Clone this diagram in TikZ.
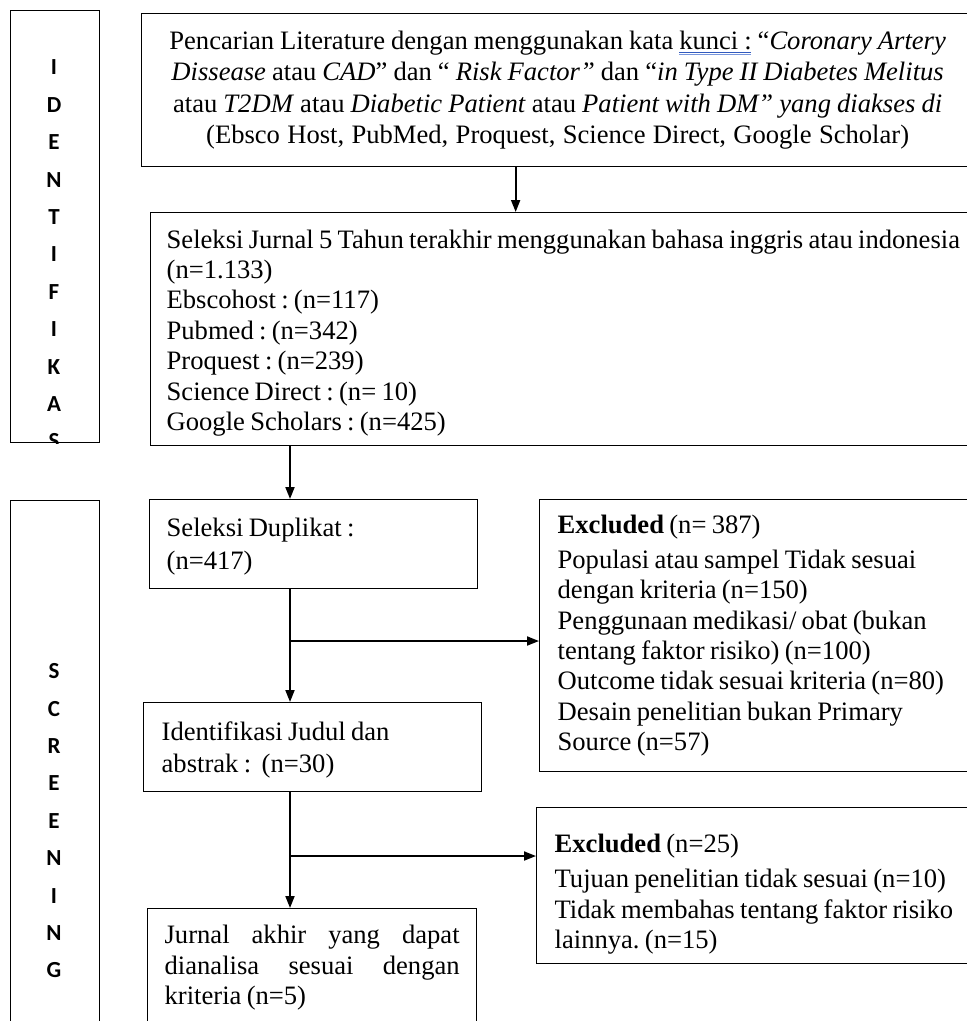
\documentclass[tikz,border=0pt]{standalone}
\usepackage{fontspec}
\setmainfont{Liberation Serif}
\setsansfont{Carlito}
\usetikzlibrary{arrows.meta}
\frenchspacing

\definecolor{wordblue}{RGB}{50,90,190}
\definecolor{wordlight}{RGB}{120,150,220}

\newsavebox{\kuncibox}
\newcommand{\spellmark}[1]{\sbox{\kuncibox}{#1}%
  \rlap{\color{wordblue}\rule[-3.5pt]{\wd\kuncibox}{1.1pt}}%
  \rlap{\color{wordlight}\rule[-6pt]{\wd\kuncibox}{1pt}}#1}
% word font with the narrow word spaces of the scan
\newcommand{\flowfont}[1]{\fontsize{26.6}{#1}\selectfont}
\newcommand{\narrowspace}{\spaceskip=5.3pt plus 2pt minus 1pt\relax}

\tikzset{
  box/.style={draw, line width=1.3pt, anchor=north west, inner ysep=0pt, align=left,
    font=\flowfont{30.4}, execute at begin node=\narrowspace},
  sidebox/.style={draw, line width=1.3pt, anchor=north west, minimum width=89, inner sep=0pt},
  stack/.style={anchor=north, inner sep=0pt, align=center,
    font=\sffamily\bfseries\fontsize{23}{37.4}\selectfont},
  arr/.style={line width=1.8pt, -{Triangle[length=12pt,width=9pt]}},
}

\begin{document}
\begin{tikzpicture}[x=1pt,y=-1pt]
	\useasboundingbox (0,0) rectangle (967,1021);
	% left column
	\node[sidebox, minimum height=432] (identbox) at (10,10) {};
	\begin{scope}
		\clip (identbox.south west) rectangle (identbox.north east);
		\node[stack] (identtext) at (54,59.7) {I\\D\\E\\N\\T\\I\\F\\I\\K\\A\\S};
	\end{scope}
	\node[sidebox, minimum height=540] (screenbox) at (10,500) {};
	\node[stack] (screentext) at (54,663.5) {S\\C\\R\\E\\E\\N\\I\\N\\G};
	% identification
	\node[box, align=center, text width=812, inner xsep=10, minimum width=832, minimum height=153,
		font=\flowfont{31.6}] (search) at (141,13)
		{Pencarian Literature dengan menggunakan kata \spellmark{kunci :} “\textit{Coronary Artery}\\
		\textit{Dissease} atau \textit{CAD}” dan “ \textit{Risk Factor”} dan “\textit{in Type II Diabetes Melitus}\\
		atau \textit{T2DM} atau \textit{Diabetic Patient} atau \textit{Patient with DM” yang diakses di}\\
		(Ebsco Host, PubMed, Proquest, Science Direct, Google Scholar)};
	\node[box, text width=830, inner xsep=16, minimum height=233] (sel) at (150,212)
		{\rule{0pt}{26pt}Seleksi Jurnal 5 Tahun terakhir menggunakan bahasa inggris atau indonesia\\
		(n=1.133)\\
		Ebscohost : (n=117)\\
		Pubmed : (n=342)\\
		Proquest : (n=239)\\
		Science Direct : (n= 10)\\
		Google Scholars : (n=425)};
	% screening
	\node[box, text width=294, inner xsep=17, minimum height=89,
		font=\flowfont{33}] (dup) at (149,499)
		{\rule{0pt}{23.5pt}Seleksi Duplikat :\\ (n=417)};
	\node[box, text width=302, inner xsep=18, minimum height=89,
		font=\flowfont{32}] (iden) at (143,702)
		{\rule{0pt}{23.5pt}Identifikasi Judul dan\\ abstrak :\ \ (n=30)};
	\node[box, text width=295, inner xsep=17, minimum height=118] (akhir) at (147,908)
		{\makebox[295pt][s]{Jurnal\hfill akhir\hfill yang\hfill dapat}\\
		\makebox[295pt][s]{dianalisa\hfill sesuai\hfill dengan}\\
		kriteria (n=5)};
	\node[box, text width=420, inner xsep=18, minimum height=272] (exa) at (539,499)
		{\textbf{Excluded} (n= 387)\\[4.6pt]
		Populasi atau sampel Tidak sesuai\\
		dengan kriteria (n=150)\\
		Penggunaan medikasi/ obat (bukan\\
		tentang faktor risiko) (n=100)\\
		Outcome tidak sesuai kriteria (n=80)\\
		Desain penelitian bukan Primary\\
		Source (n=57)};
	\node[box, text width=420, inner xsep=18, minimum height=156] (exb) at (536,807)
		{\rule{0pt}{36pt}\textbf{Excluded} (n=25)\\[4.6pt]
		Tujuan penelitian tidak sesuai (n=10)\\
		Tidak membahas tentang faktor risiko\\
		lainnya. (n=15)};
	% arrows
	\coordinate (spine) at (290,0);
	\coordinate (fork1) at (290,641);
	\coordinate (fork2) at (290,856);
	\draw[arr] ([xshift=-42]search.south) -- ([xshift=-42]search.south |- sel.north);
	\draw[arr] (sel.south -| spine) -- (dup.north -| spine);
	\draw[arr] (dup.south -| spine) -- (iden.north -| spine);
	\draw[arr] (iden.south -| spine) -- (akhir.north -| spine);
	\draw[arr] (fork1) -- (fork1 -| exa.west);
	\draw[arr] (fork2) -- (fork2 -| exb.west);
\end{tikzpicture}
\end{document}
